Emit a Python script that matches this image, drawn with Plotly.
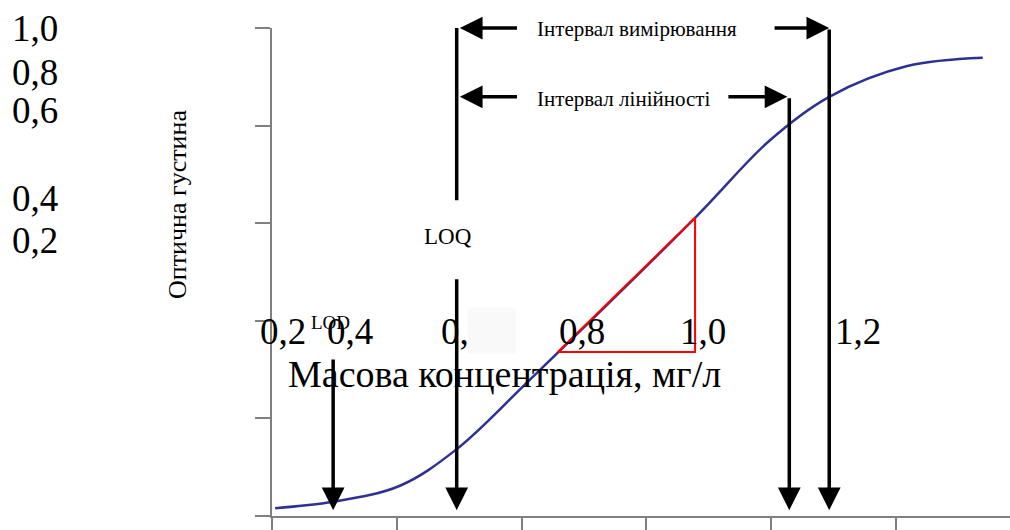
import plotly.graph_objects as go

# Calibration curve: optical density vs mass concentration
conc = [0.005, 0.098, 0.205, 0.296, 0.413, 0.678, 0.798, 0.893, 1.018, 1.139]
density = [0.016, 0.029, 0.062, 0.137, 0.279, 0.611, 0.770, 0.859, 0.922, 0.939]

# Slope triangle on the linear part
tri_x = [0.458, 0.678, 0.678, 0.458]
tri_y = [0.336, 0.611, 0.336, 0.336]

# Characteristic concentrations
lod = 0.098
loq = 0.296
lin_end = 0.829
meas_end = 0.893
lod_top = 0.324
lin_top = 0.859
loq_gap = (0.647, 0.488)  # top / bottom of the gap around the LOQ label
arrow_tip = 0.012

x_ticks = [0.0, 0.2, 0.4, 0.6, 0.8, 1.0]
y_ticks = [0.0, 0.2, 0.4, 0.6, 0.8, 1.0]
x_tick_labels = ["0,2", "0,4", "0,6", "0,8", "1,0", "1,2"]
y_tick_labels = ["1,0", "0,8", "0,6", "0,4", "0,2"]

x_title = "Масова концентрація, мг/л"
y_title = "Оптична густина"
meas_label = "Інтервал вимірювання"
lin_label = "Інтервал лінійності"

W, H = 1010, 530
L, R, T, B = 272, 0, 28, 14
plot_w, plot_h = W - L - R, H - T - B


def px(x):
    return (x - L) / plot_w


def py(y):
    return (H - B - y) / plot_h


SERIF = "Liberation Serif, Times New Roman, serif"
GRAY = "#808080"

fig = go.Figure()
fig.add_trace(go.Scatter(x=conc, y=density, mode="lines",
                         line=dict(color="#2e3192", width=2.5, shape="spline", smoothing=1.0),
                         hoverinfo="skip", showlegend=False))
fig.add_trace(go.Scatter(x=tri_x, y=tri_y, mode="lines", line=dict(color="#ff0000", width=2),
                         hoverinfo="skip", showlegend=False))

shapes = [
    # LOQ line above its label
    dict(type="line", x0=loq, x1=loq, y0=loq_gap[0], y1=1.0, xref="x", yref="y",
         line=dict(color="black", width=3.5)),
]

ann = []

# displaced numeric labels
y_label_pos = [28, 72, 110, 198, 240]
for t, yy in zip(y_tick_labels, y_label_pos):
    ann.append(dict(text=t, x=px(35), y=py(yy), xref="paper", yref="paper", showarrow=False,
                    font=dict(family=SERIF, size=37, color="black"), xanchor="center", yanchor="middle"))
x_label_pos = [283, 350, 464, 582, 703, 858]
for t, xx in zip(x_tick_labels, x_label_pos):
    ann.append(dict(text=t, x=px(xx), y=py(331), xref="paper", yref="paper", showarrow=False,
                    font=dict(family=SERIF, size=37, color="black"), xanchor="center", yanchor="middle"))

# light patch over part of the labels
ann.append(dict(text="", x=px(467), y=py(307), xref="paper", yref="paper", showarrow=False,
                width=47, height=45, bgcolor="#f9f9f9", xanchor="left", yanchor="top", borderpad=0))

ann.append(dict(text=x_title, x=px(504), y=py(374), xref="paper", yref="paper", showarrow=False,
                font=dict(family=SERIF, size=38, color="black"), xanchor="center", yanchor="middle"))
ann.append(dict(text=y_title, x=px(177), y=py(205), xref="paper", yref="paper", showarrow=False,
                textangle=-90, font=dict(family=SERIF, size=26, color="black"), xanchor="center", yanchor="middle"))
ann.append(dict(text="LOD", x=px(330), y=py(322), xref="paper", yref="paper", showarrow=False,
                font=dict(family=SERIF, size=19, color="black"), xanchor="center", yanchor="middle"))
ann.append(dict(text="LOQ", x=px(448), y=py(236), xref="paper", yref="paper", showarrow=False,
                font=dict(family=SERIF, size=23, color="black"), xanchor="center", yanchor="middle"))
ann.append(dict(text=meas_label, x=px(637), y=py(29), xref="paper", yref="paper", showarrow=False,
                font=dict(family=SERIF, size=21, color="black"), xanchor="center", yanchor="middle"))
ann.append(dict(text=lin_label, x=px(623), y=py(99), xref="paper", yref="paper", showarrow=False,
                font=dict(family=SERIF, size=21, color="black"), xanchor="center", yanchor="middle"))

arrow_style = dict(xref="x", yref="y", axref="x", ayref="y", showarrow=True, text="",
                   arrowhead=2, arrowsize=1.3, arrowwidth=3.5, arrowcolor="black", standoff=0, startstandoff=0)

# vertical arrows down to the concentration axis
for xv, top in [(lod, lod_top), (loq, loq_gap[1]), (lin_end, lin_top), (meas_end, 1.0)]:
    ann.append(dict(x=xv, y=arrow_tip, ax=xv, ay=top, **arrow_style))

# interval arrows
ann.append(dict(x=loq + 0.005, y=1.0, ax=0.395, ay=1.0, **arrow_style))
ann.append(dict(x=meas_end, y=1.0, ax=0.803, ay=1.0, **arrow_style))
ann.append(dict(x=loq + 0.005, y=lin_top, ax=0.395, ay=lin_top, **arrow_style))
ann.append(dict(x=lin_end - 0.003, y=lin_top, ax=0.729, ay=lin_top, **arrow_style))

fig.update_layout(
    width=W, height=H, margin=dict(l=L, r=R, t=T, b=B),
    paper_bgcolor="white", plot_bgcolor="white",
    shapes=shapes, annotations=ann,
    xaxis=dict(range=[0, plot_w / 624], tickvals=x_ticks, showticklabels=False, ticks="outside", ticklen=14,
               tickcolor=GRAY, tickwidth=1.5, showline=True, linecolor=GRAY, linewidth=1.5,
               showgrid=False, zeroline=False, fixedrange=True),
    yaxis=dict(range=[0, 1.0], tickvals=y_ticks, showticklabels=False, ticks="outside", ticklen=15,
               tickcolor=GRAY, tickwidth=1.5, showline=True, linecolor=GRAY, linewidth=1.5,
               showgrid=False, zeroline=False, fixedrange=True),
)

fig.write_html("out.html")
